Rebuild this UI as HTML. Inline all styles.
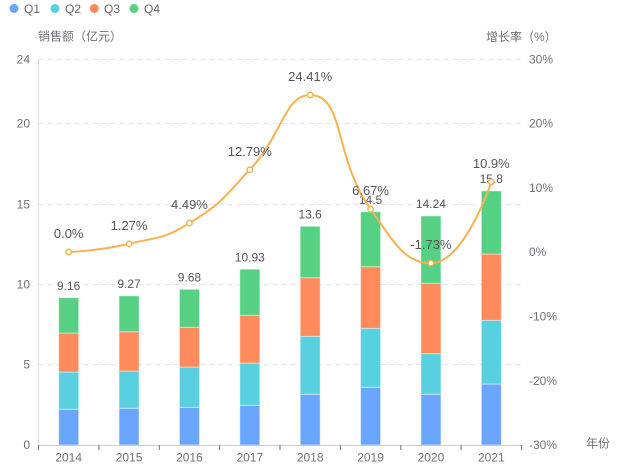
<!DOCTYPE html>
<html><head><meta charset="utf-8"><style>
html,body{margin:0;padding:0;background:#fff;}
svg{display:block;font-family:"Liberation Sans","Noto Sans CJK SC",sans-serif;}
</style></head><body>
<svg width="620" height="472" viewBox="0 0 620 472" xmlns="http://www.w3.org/2000/svg">
<!-- legend -->
<g font-size="12" fill="#666">
<circle cx="14" cy="8.5" r="4.5" fill="#6aa6ff"/><text x="24" y="13">Q1</text>
<circle cx="55" cy="8.5" r="4.5" fill="#58d0e0"/><text x="65" y="13">Q2</text>
<circle cx="94.3" cy="8.5" r="4.5" fill="#ff8a5c"/><text x="104" y="13">Q3</text>
<circle cx="134" cy="8.5" r="4.5" fill="#56d083"/><text x="144" y="13">Q4</text>
</g>
<!-- axis names -->
<g font-size="12" fill="#6e7079">
<text x="38" y="40.5">销售额（亿元）</text>
<text x="486" y="41">增长率（%）</text>
<text x="586" y="447.5">年份</text>
</g>
<!-- grid lines -->
<g stroke="#e0e6f1" stroke-width="1" stroke-dasharray="5,4">
<line x1="38.5" y1="59.5" x2="521.5" y2="59.5"/>
<line x1="38.5" y1="123.5" x2="521.5" y2="123.5"/>
<line x1="38.5" y1="204.5" x2="521.5" y2="204.5"/>
<line x1="38.5" y1="284.5" x2="521.5" y2="284.5"/>
<line x1="38.5" y1="364.5" x2="521.5" y2="364.5"/>
</g>
<!-- left axis labels -->
<g font-size="12" fill="#6e7079" text-anchor="end">
<text x="30" y="63.5">24</text>
<text x="30" y="127.5">20</text>
<text x="30" y="208.5">15</text>
<text x="30" y="288.5">10</text>
<text x="30" y="368.5">5</text>
<text x="30" y="449">0</text>
</g>
<!-- right axis labels -->
<g font-size="12" fill="#6e7079">
<text x="529" y="63.5">30%</text>
<text x="529" y="127.5">20%</text>
<text x="529" y="192">10%</text>
<text x="529" y="256">0%</text>
<text x="529" y="320.5">-10%</text>
<text x="529" y="385">-20%</text>
<text x="529" y="449">-30%</text>
</g>
<!-- bars -->
<g stroke="rgba(255,255,255,0.45)" stroke-width="1">
<!-- 2014 -->
<rect x="58.69" y="409.3" width="20" height="35.7" fill="#6aa6ff"/>
<rect x="58.69" y="372" width="20" height="37.3" fill="#58d0e0"/>
<rect x="58.69" y="333" width="20" height="39" fill="#ff8a5c"/>
<rect x="58.69" y="297.7" width="20" height="35.3" fill="#56d083"/>
<!-- 2015 -->
<rect x="119.06" y="408.3" width="20" height="36.7" fill="#6aa6ff"/>
<rect x="119.06" y="371" width="20" height="37.3" fill="#58d0e0"/>
<rect x="119.06" y="331.7" width="20" height="39.3" fill="#ff8a5c"/>
<rect x="119.06" y="295.9" width="20" height="35.8" fill="#56d083"/>
<!-- 2016 -->
<rect x="179.44" y="407.3" width="20" height="37.7" fill="#6aa6ff"/>
<rect x="179.44" y="367" width="20" height="40.3" fill="#58d0e0"/>
<rect x="179.44" y="327.3" width="20" height="39.7" fill="#ff8a5c"/>
<rect x="179.44" y="289.3" width="20" height="38" fill="#56d083"/>
<!-- 2017 -->
<rect x="239.81" y="405.3" width="20" height="39.7" fill="#6aa6ff"/>
<rect x="239.81" y="363" width="20" height="42.3" fill="#58d0e0"/>
<rect x="239.81" y="315.3" width="20" height="47.7" fill="#ff8a5c"/>
<rect x="239.81" y="269.2" width="20" height="46.1" fill="#56d083"/>
<!-- 2018 -->
<rect x="300.19" y="394.3" width="20" height="50.7" fill="#6aa6ff"/>
<rect x="300.19" y="336.3" width="20" height="58" fill="#58d0e0"/>
<rect x="300.19" y="277.7" width="20" height="58.6" fill="#ff8a5c"/>
<rect x="300.19" y="226.3" width="20" height="51.4" fill="#56d083"/>
<!-- 2019 -->
<rect x="360.56" y="387.3" width="20" height="57.7" fill="#6aa6ff"/>
<rect x="360.56" y="328.3" width="20" height="59" fill="#58d0e0"/>
<rect x="360.56" y="266.7" width="20" height="61.6" fill="#ff8a5c"/>
<rect x="360.56" y="211.8" width="20" height="54.9" fill="#56d083"/>
<!-- 2020 -->
<rect x="420.94" y="394.3" width="20" height="50.7" fill="#6aa6ff"/>
<rect x="420.94" y="353.7" width="20" height="40.6" fill="#58d0e0"/>
<rect x="420.94" y="283.3" width="20" height="70.4" fill="#ff8a5c"/>
<rect x="420.94" y="216" width="20" height="67.3" fill="#56d083"/>
<!-- 2021 -->
<rect x="481.31" y="384" width="20" height="61" fill="#6aa6ff"/>
<rect x="481.31" y="320.3" width="20" height="63.7" fill="#58d0e0"/>
<rect x="481.31" y="254" width="20" height="66.3" fill="#ff8a5c"/>
<rect x="481.31" y="190.9" width="20" height="63.1" fill="#56d083"/>
</g>
<!-- axes -->
<line x1="38.5" y1="59" x2="38.5" y2="445" stroke="#d5dee0" stroke-width="1"/>
<line x1="38" y1="445.5" x2="522" y2="445.5" stroke="#c9ccd0" stroke-width="1"/>
<g stroke="#6e7079" stroke-width="1">
<line x1="38.5" y1="445" x2="38.5" y2="450"/>
<line x1="98.9" y1="445" x2="98.9" y2="450"/>
<line x1="159.3" y1="445" x2="159.3" y2="450"/>
<line x1="219.6" y1="445" x2="219.6" y2="450"/>
<line x1="280" y1="445" x2="280" y2="450"/>
<line x1="340.4" y1="445" x2="340.4" y2="450"/>
<line x1="400.8" y1="445" x2="400.8" y2="450"/>
<line x1="461.1" y1="445" x2="461.1" y2="450"/>
<line x1="521.5" y1="445" x2="521.5" y2="450"/>
</g>
<!-- x labels -->
<g font-size="12" fill="#6e7079" text-anchor="middle">
<text x="68.69" y="461.5">2014</text>
<text x="129.06" y="461.5">2015</text>
<text x="189.44" y="461.5">2016</text>
<text x="249.81" y="461.5">2017</text>
<text x="310.19" y="461.5">2018</text>
<text x="370.56" y="461.5">2019</text>
<text x="430.94" y="461.5">2020</text>
<text x="491.31" y="461.5">2021</text>
</g>
<!-- bar total labels -->
<g font-size="12" fill="#555" text-anchor="middle">
<text x="68.69" y="290">9.16</text>
<text x="129.06" y="288">9.27</text>
<text x="189.44" y="281.5">9.68</text>
<text x="249.81" y="261.5">10.93</text>
<text x="310.19" y="218.5">13.6</text>
<text x="370.56" y="204">14.5</text>
<text x="430.94" y="208">14.24</text>
<text x="491.31" y="183">15.8</text>
</g>
<!-- line -->
<path d="M68.69,252 C68.69,252 99.57,250.88 129.06,243.83 C159.95,236.44 162.75,239.49 189.44,223.11 C223.14,202.43 222.27,198.95 249.81,169.72 C282.65,134.87 284.43,94.96 310.19,94.96 C344.80,94.96 333.47,157.43 370.56,209.09 C393.84,241.51 404.10,263.13 430.94,263.13 C464.47,263.13 491.31,181.88 491.31,181.88" fill="none" stroke="#f7b24f" stroke-width="2"/>
<g fill="#fff" stroke="#f7b24f" stroke-width="1.5">
<circle cx="68.69" cy="252" r="2.7"/>
<circle cx="129.06" cy="243.83" r="2.7"/>
<circle cx="189.44" cy="223.11" r="2.7"/>
<circle cx="249.81" cy="169.72" r="2.7"/>
<circle cx="310.19" cy="94.96" r="2.7"/>
<circle cx="370.56" cy="209.09" r="2.7"/>
<circle cx="430.94" cy="263.13" r="2.7"/>
<circle cx="491.31" cy="181.88" r="2.7"/>
</g>
<!-- line labels -->
<g font-size="13" fill="#555" text-anchor="middle">
<text x="68.69" y="238">0.0%</text>
<text x="129.06" y="230">1.27%</text>
<text x="189.44" y="209">4.49%</text>
<text x="249.81" y="156">12.79%</text>
<text x="310.19" y="81">24.41%</text>
<text x="370.56" y="195">6.67%</text>
<text x="430.94" y="249">-1.73%</text>
<text x="491.31" y="168">10.9%</text>
</g>
</svg>
</body></html>
